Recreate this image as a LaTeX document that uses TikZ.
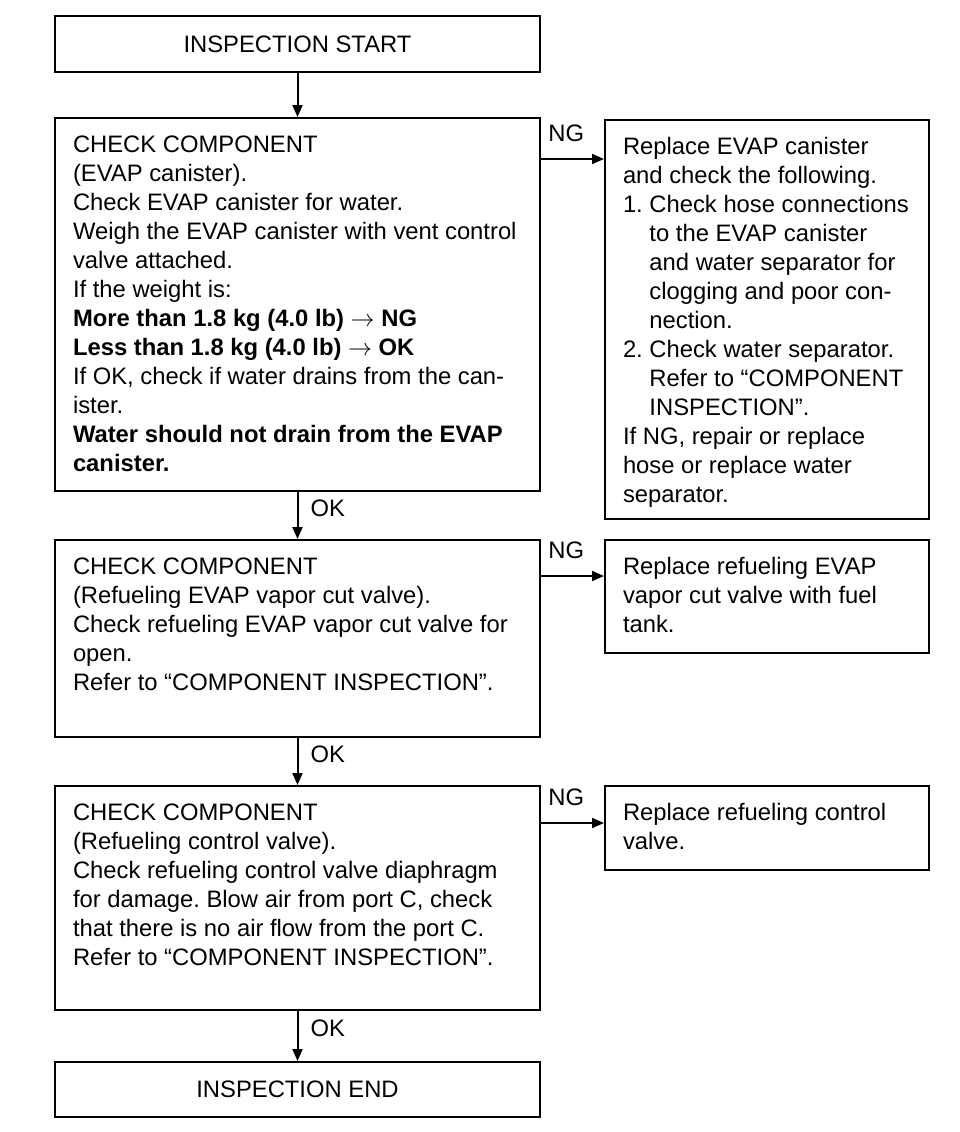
\documentclass[tikz,border=0pt]{standalone}
\usepackage{fontspec}
\setmainfont{Liberation Sans}
\usetikzlibrary{positioning,calc,arrows.meta}
\frenchspacing
\newcommand{\steptext}[3]{\parbox[c][\dimexpr#2-14pt\relax][t]{\dimexpr#1-18pt\relax}{\begin{tabular}[t]{@{}l@{}}#3\end{tabular}}}
\tikzset{
	flowfont/.style={font=\fontsize{11.9}{14.5}\selectfont},
	termbox/.style={draw,line width=1pt,flowfont,minimum width=242.5pt,minimum height=28pt,inner sep=0pt},
	stepbox/.style={draw,line width=1pt,flowfont,inner xsep=9pt,inner ysep=7pt},
	arr/.style={line width=1pt,-{Triangle[length=6pt,width=5pt]}},
	oklbl/.style={right=6pt,pos=0.35,inner sep=0pt,flowfont},
	nglbl/.style={above=8pt,pos=0.4,inner sep=0pt,flowfont}
}
\begin{document}
\begin{tikzpicture}[x=0.5pt,y=-0.5pt]
						\useasboundingbox (0,0) rectangle (960,1132);
						\node[termbox] (start) at (297.5,44) {INSPECTION START};
						\node[stepbox,below=22pt of start] (chk1) {\steptext{242.5pt}{186.5pt}{CHECK COMPONENT\\
							(EVAP canister).\\
							Check EVAP canister for water.\\
							Weigh the EVAP canister with vent control\\
							valve attached.\\
							If the weight is:\\
							\textbf{More than 1.8 kg (4.0 lb) $\rightarrow$ NG}\\
							\textbf{Less than 1.8 kg (4.0 lb) $\rightarrow$ OK}\\
							If OK, check if water drains from the can-\\
							ister.\\
							\textbf{Water should not drain from the EVAP}\\
							\textbf{canister.}}};
						\node[stepbox,right=31.5pt of chk1.north east,anchor=north west,yshift=-1pt] (rep1) {\steptext{162pt}{199.5pt}{Replace EVAP canister\\
							and check the following.\\
							1. Check hose connections\\
							\hphantom{1.\ }to the EVAP canister\\
							\hphantom{1.\ }and water separator for\\
							\hphantom{1.\ }clogging and poor con-\\
							\hphantom{1.\ }nection.\\
							2. Check water separator.\\
							\hphantom{2.\ }Refer to “COMPONENT\\
							\hphantom{2.\ }INSPECTION”.\\
							If NG, repair or replace\\
							hose or replace water\\
							separator.}};
						\node[stepbox,below=23.5pt of chk1] (chk2) {\steptext{242.5pt}{98.5pt}{CHECK COMPONENT\\
							(Refueling EVAP vapor cut valve).\\
							Check refueling EVAP vapor cut valve for\\
							open.\\
							Refer to “COMPONENT INSPECTION”.}};
						\node[stepbox,right=31.5pt of chk2.north east,anchor=north west] (rep2) {\steptext{162pt}{56.5pt}{Replace refueling EVAP\\
							vapor cut valve with fuel\\
							tank.}};
						\node[stepbox,below=23.5pt of chk2] (chk3) {\steptext{242.5pt}{112pt}{CHECK COMPONENT\\
							(Refueling control valve).\\
							Check refueling control valve diaphragm\\
							for damage. Blow air from port C, check\\
							that there is no air flow from the port C.\\
							Refer to “COMPONENT INSPECTION”.}};
						\node[stepbox,right=31.5pt of chk3.north east,anchor=north west] (rep3) {\steptext{162pt}{42pt}{Replace refueling control\\
							valve.}};
						\node[termbox,below=25pt of chk3,minimum height=27.5pt] (end) {INSPECTION END};
						\coordinate (ng1) at ($(chk1.north east)+(0,42)$);
						\coordinate (ng2) at ($(chk2.north east)+(0,37)$);
						\coordinate (ng3) at ($(chk3.north east)+(0,38)$);
						\draw[arr] (start) to (chk1);
						\draw[arr] (chk1) to node[oklbl]{OK} (chk2);
						\draw[arr] (chk2) to node[oklbl]{OK} (chk3);
						\draw[arr] (chk3) to node[oklbl]{OK} (end);
						\draw[arr] (ng1) to node[nglbl]{NG} (ng1 -| rep1.west);
						\draw[arr] (ng2) to node[nglbl]{NG} (ng2 -| rep2.west);
						\draw[arr] (ng3) to node[nglbl]{NG} (ng3 -| rep3.west);
						\end{tikzpicture}
\end{document}
